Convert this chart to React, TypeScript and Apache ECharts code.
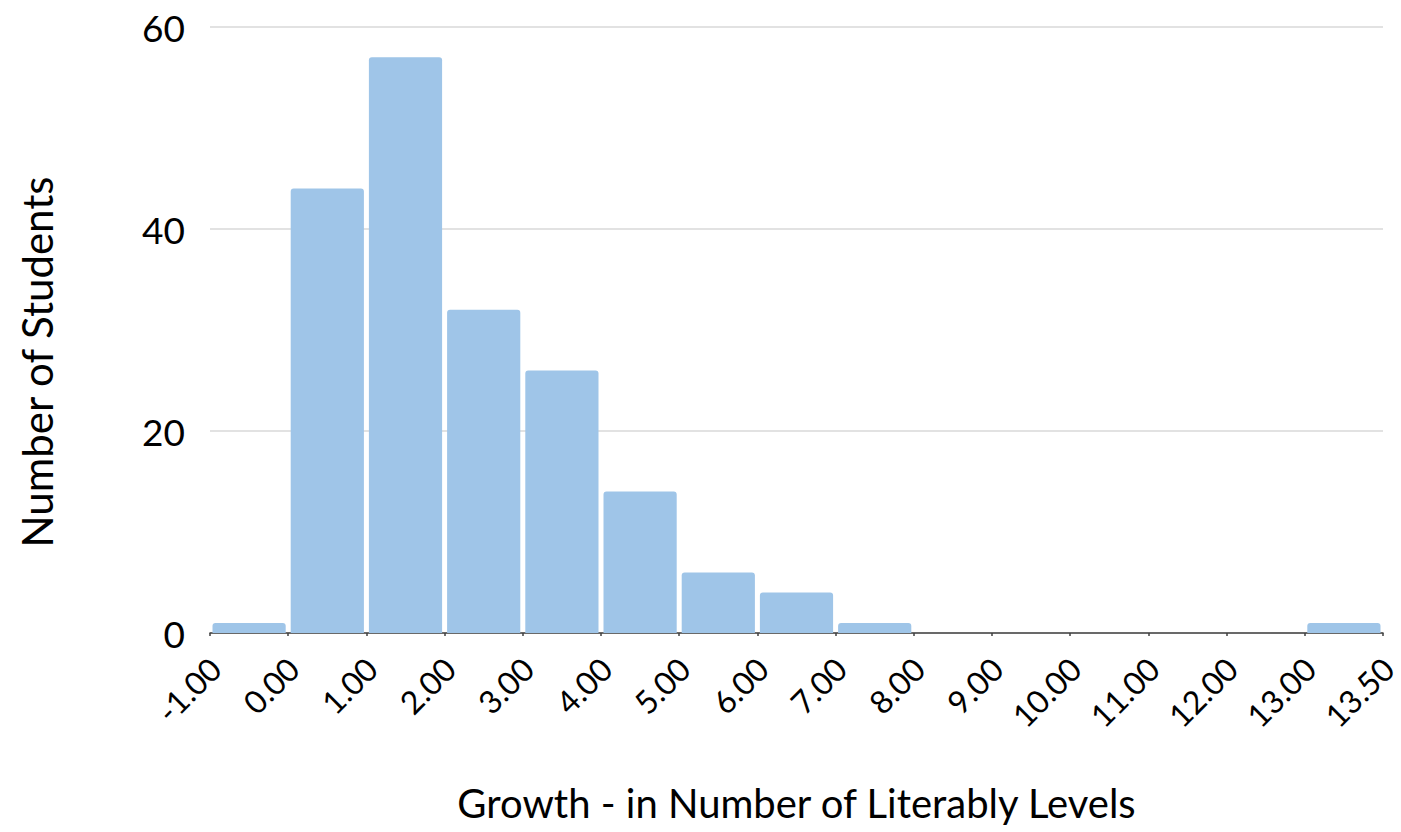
import React, { useEffect, useRef } from "react";
import * as echarts from "echarts";

const edgeLabels = ["-1.00", "0.00", "1.00", "2.00", "3.00", "4.00", "5.00", "6.00", "7.00", "8.00", "9.00", "10.00", "11.00", "12.00", "13.00", "13.50"];
const counts = [1, 44, 57, 32, 26, 14, 6, 4, 1, 0, 0, 0, 0, 0, 1];
const yTicks = [0, 20, 40, 60];
const xTitle = "Growth - in Number of Literably Levels";
const yTitle = "Number of Students";

const FONT = "Lato, 'Open Sans', sans-serif";

export default function App() {
  const ref = useRef<HTMLDivElement>(null);
  useEffect(() => {
    document.body.style.margin = "0";
    const chart = echarts.init(ref.current!, null, { renderer: "svg" });
    chart.setOption({
      animation: false,
      backgroundColor: "#ffffff",
      grid: { left: 210, right: 18, top: 27, bottom: 199, containLabel: false, outerBoundsMode: "none" },
      xAxis: {
        type: "value",
        min: 0,
        max: edgeLabels.length - 1,
        interval: 1,
        name: xTitle,
        nameLocation: "middle",
        nameGap: 150,
        nameTextStyle: { fontSize: 40, color: "#000", fontFamily: FONT },
        axisLine: { show: true, lineStyle: { color: "#404040", width: 1.5 } },
        axisTick: { show: true, length: 3, lineStyle: { color: "#404040", width: 1.5 } },
        splitLine: { show: false },
        axisLabel: {
          rotate: 45,
          margin: 25,
          fontSize: 32,
          lineHeight: 14,
          color: "#000",
          fontFamily: FONT,
          verticalAlign: "top",
          hideOverlap: false,
          formatter: (v: number) => edgeLabels[Math.round(v)] ?? "",
        },
      },
      yAxis: {
        type: "value",
        min: yTicks[0],
        max: yTicks[yTicks.length - 1],
        interval: 20,
        name: yTitle,
        nameLocation: "middle",
        nameGap: 152,
        nameTextStyle: { fontSize: 42, color: "#000", fontFamily: FONT, padding: [0, 64, 0, 0] },
        axisLine: { show: false },
        axisTick: { show: false },
        splitLine: { show: true, lineStyle: { color: "#d9d9d9", width: 1.5 } },
        axisLabel: { fontSize: 37, color: "#000", fontFamily: FONT, margin: 25 },
      },
      series: [
        {
          type: "custom",
          data: counts.map((c, i) => [i, c]),
          renderItem: (params: any, api: any) => {
            const i = api.value(0);
            const v = api.value(1);
            if (!v) return null;
            const p0 = api.coord([i, v]);
            const p1 = api.coord([i + 1, 0]);
            const gap = 2.5;
            return {
              type: "rect",
              shape: {
                x: p0[0] + gap,
                y: p0[1],
                width: p1[0] - p0[0] - 2 * gap,
                height: p1[1] - p0[1],
                r: [3, 3, 0, 0],
              },
              style: { fill: "#9fc5e8" },
            };
          },
          z: 2,
        },
      ],
    });
    return () => chart.dispose();
  }, []);
  return <div ref={ref} style={{ width: 1401, height: 832 }} />;
}
